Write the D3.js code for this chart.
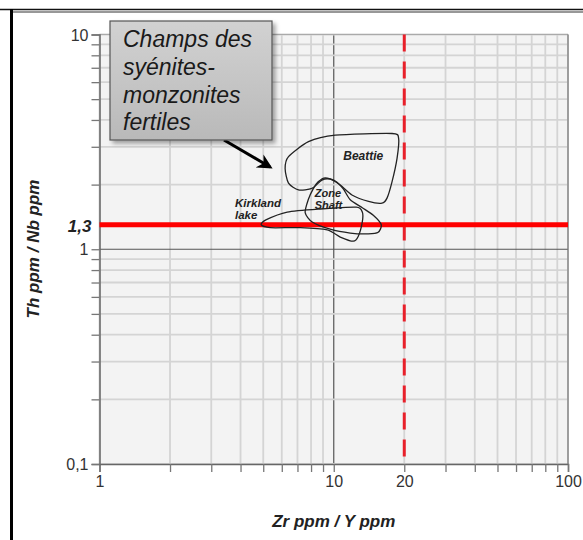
<!DOCTYPE html>
<html>
<head>
<meta charset="utf-8">
<script src="https://cdn.jsdelivr.net/npm/d3@7"></script>
<style>
  body { margin: 0; background: #fff; }
  text { font-family: Arial, "Liberation Sans", sans-serif; }
</style>
</head>
<body>
<div id="chart"></div>
<script>
// Axis ticks and labels
var xTicks = [1, 10, 20, 100];
var xTickLabels = ["1", "10", "20", "100"];
var yTicks = [0.1, 1, 10];
var yTickLabels = ["0,1", "1", "10"];

// Threshold lines
var thThreshold = 1.3;
var thThresholdLabel = "1,3";
var zrThreshold = 20;

// Fields [Zr/Y, Th/Nb]
var beattie = [[6.41, 2.70], [7.80, 3.17], [10.15, 3.40], [17.73, 3.46], [18.92, 3.28],
  [18.63, 2.65], [17.73, 2.06], [16.88, 1.73], [16.07, 1.64], [14.08, 1.67],
  [11.96, 1.79], [10.66, 1.99], [9.66, 2.12], [8.90, 2.10], [8.07, 1.92],
  [7.07, 1.89], [6.41, 2.03], [6.20, 2.38]];
var zoneShaft = [[9.20, 2.15], [10.15, 2.08], [10.98, 1.91], [11.76, 1.70], [13.24, 1.56],
  [14.75, 1.44], [15.96, 1.30], [15.48, 1.20], [14.04, 1.18], [11.76, 1.19],
  [9.66, 1.24], [8.09, 1.34], [7.55, 1.48], [7.78, 1.70], [8.17, 1.91], [8.58, 2.06]];
var kirkland = [[4.90, 1.30], [5.13, 1.37], [6.33, 1.49], [8.75, 1.54], [12.48, 1.57],
  [13.24, 1.49], [13.24, 1.34], [12.73, 1.15], [12.12, 1.09], [10.66, 1.14],
  [9.38, 1.23], [7.19, 1.26], [5.35, 1.26]];
var fields = [beattie, zoneShaft, kirkland];

// Field names, anchored at [Zr/Y, Th/Nb]
var fieldNames = [["Beattie"], ["Zone", "Shaft"], ["Kirkland", "lake"]];
var fieldNamePos = [[10.98, 2.60], [8.30, 1.75], [3.79, 1.57]];
var fieldNameSize = [12, 11, 11.5];

var calloutLines = ["Champs des", "syénites-", "monzonites", "fertiles"];
var xTitle = "Zr ppm / Y ppm";
var yTitle = "Th ppm / Nb ppm";

var svgWidth = 583, svgHeight = 540;
var plot = { left: 99.5, right: 568, top: 34.5, bottom: 464 };

var svg = d3.select("#chart").append("svg")
  .attr("width", svgWidth)
  .attr("height", svgHeight);

var defs = svg.append("defs");
var grad = defs.append("linearGradient").attr("id", "boxFill")
  .attr("x1", 0).attr("y1", 0).attr("x2", 0).attr("y2", 1);
grad.append("stop").attr("offset", "0%").attr("stop-color", "#d2d2d2");
grad.append("stop").attr("offset", "100%").attr("stop-color", "#b9b9b9");
var shadow = defs.append("filter").attr("id", "shadow")
  .attr("x", "-10%").attr("y", "-10%").attr("width", "130%").attr("height", "130%");
shadow.append("feDropShadow").attr("dx", 3).attr("dy", 3).attr("stdDeviation", 2)
  .attr("flood-color", "#000").attr("flood-opacity", 0.35);
defs.append("marker").attr("id", "arrow")
  .attr("viewBox", "0 0 10 10").attr("refX", 8).attr("refY", 5)
  .attr("markerWidth", 5).attr("markerHeight", 5).attr("orient", "auto")
  .append("path").attr("d", "M0,0 L10,5 L0,10 L3,5 Z").attr("fill", "#000");

// Frame
svg.append("line").attr("x1", 0).attr("x2", svgWidth).attr("y1", 9.5).attr("y2", 9.5)
  .attr("stroke", "#111").attr("stroke-width", 1.5);
svg.append("line").attr("x1", 10).attr("x2", svgWidth).attr("y1", 12).attr("y2", 12)
  .attr("stroke", "#333").attr("stroke-width", 1.2);
svg.append("line").attr("x1", 11.5).attr("x2", 11.5).attr("y1", 9).attr("y2", svgHeight)
  .attr("stroke", "#000").attr("stroke-width", 3);

var x = d3.scaleLog().domain([1, 100]).range([plot.left, plot.right]);
var y = d3.scaleLog().domain([0.1, 10]).range([plot.bottom, plot.top]);

// Plot background
svg.append("rect")
  .attr("x", plot.left).attr("y", plot.top)
  .attr("width", plot.right - plot.left).attr("height", plot.bottom - plot.top)
  .attr("fill", "#f3f3f3");

// Grid
var grid = svg.append("g");
grid.selectAll(".gx").data(x.ticks()).enter().append("line")
  .attr("x1", d => x(d)).attr("x2", d => x(d))
  .attr("y1", plot.top).attr("y2", plot.bottom)
  .attr("stroke", d => d === 10 ? "#555" : "#d4d4d4")
  .attr("stroke-width", d => d === 10 ? 1.2 : 1.8);
grid.selectAll(".gy").data(y.ticks()).enter().append("line")
  .attr("y1", d => y(d)).attr("y2", d => y(d))
  .attr("x1", plot.left).attr("x2", plot.right)
  .attr("stroke", d => d === 1 ? "#555" : "#d4d4d4")
  .attr("stroke-width", d => d === 1 ? 1.2 : 1.8);
svg.append("line").attr("x1", plot.left).attr("x2", plot.right)
  .attr("y1", plot.top).attr("y2", plot.top).attr("stroke", "#aaa").attr("stroke-width", 1.2);
svg.append("line").attr("x1", plot.right).attr("x2", plot.right)
  .attr("y1", plot.top).attr("y2", plot.bottom).attr("stroke", "#777").attr("stroke-width", 1.2);

// Axes
var bottomAxis = d3.axisBottom(x).tickValues(x.ticks()).tickSize(8)
  .tickFormat(d => { var i = xTicks.indexOf(d); return i >= 0 ? xTickLabels[i] : ""; });
var leftAxis = d3.axisLeft(y).tickValues(y.ticks()).tickSize(8)
  .tickFormat(d => { var i = yTicks.indexOf(+d.toPrecision(3)); return i >= 0 ? yTickLabels[i] : ""; });

var gx = svg.append("g").attr("transform", `translate(0,${plot.bottom})`).call(bottomAxis);
var gy = svg.append("g").attr("transform", `translate(${plot.left},0)`).call(leftAxis);
[gx, gy].forEach(function(g) {
  g.select(".domain").attr("stroke", "#666").attr("stroke-width", 1.5);
  g.selectAll(".tick line").attr("stroke", "#777").attr("stroke-width", 1.3);
  g.selectAll(".tick text").attr("fill", "#333").style("font-size", "16px");
});
gx.selectAll(".tick text").attr("dy", "0.75em").attr("y", 11);
gy.selectAll(".tick text").attr("x", -11).attr("dy", "0.35em");

// Threshold lines
svg.append("line")
  .attr("x1", x(zrThreshold)).attr("x2", x(zrThreshold))
  .attr("y1", plot.top).attr("y2", plot.bottom)
  .attr("stroke", "#e8202a").attr("stroke-width", 3)
  .attr("stroke-dasharray", "17,10");
svg.append("line")
  .attr("x1", plot.left).attr("x2", plot.right)
  .attr("y1", y(thThreshold)).attr("y2", y(thThreshold))
  .attr("stroke", "#ff0000").attr("stroke-width", 5);
svg.append("text")
  .attr("x", plot.left - 8).attr("y", y(thThreshold)).attr("dy", "0.4em")
  .attr("text-anchor", "end")
  .style("font-size", "17px").style("font-weight", "bold").style("font-style", "italic")
  .attr("fill", "#222")
  .text(thThresholdLabel);

// Fields
var line = d3.line().x(d => x(d[0])).y(d => y(d[1])).curve(d3.curveCardinalClosed.tension(0.3));
svg.selectAll(".field").data(fields).enter().append("path")
  .attr("d", line)
  .attr("fill", "none")
  .attr("stroke", "#222")
  .attr("stroke-width", 1.3);

fieldNames.forEach(function(lines, i) {
  var t = svg.append("text")
    .attr("x", x(fieldNamePos[i][0])).attr("y", y(fieldNamePos[i][1]))
    .style("font-size", fieldNameSize[i] + "px")
    .style("font-weight", "bold").style("font-style", "italic")
    .attr("fill", "#222");
  lines.forEach(function(s, j) {
    t.append("tspan").attr("x", x(fieldNamePos[i][0])).attr("dy", j === 0 ? 0 : "1.05em").text(s);
  });
});

// Callout
svg.append("line")
  .attr("x1", 224).attr("y1", 140).attr("x2", 270).attr("y2", 167)
  .attr("stroke", "#000").attr("stroke-width", 3)
  .attr("marker-end", "url(#arrow)");
svg.append("rect")
  .attr("x", 110).attr("y", 21).attr("width", 162).attr("height", 119)
  .attr("fill", "url(#boxFill)").attr("stroke", "#555").attr("stroke-width", 1.2)
  .attr("filter", "url(#shadow)");
var callout = svg.append("text")
  .attr("x", 123).attr("y", 47)
  .style("font-size", "23px").style("font-style", "italic")
  .attr("fill", "#1a1a1a");
calloutLines.forEach(function(s, j) {
  callout.append("tspan").attr("x", 123).attr("dy", j === 0 ? 0 : 27.8).text(s);
});

// Axis titles
svg.append("text")
  .attr("x", x(10)).attr("y", 527)
  .attr("text-anchor", "middle")
  .style("font-size", "17px").style("font-weight", "bold").style("font-style", "italic")
  .attr("fill", "#222")
  .text(xTitle);
svg.append("text")
  .attr("transform", "translate(39,249) rotate(-90)")
  .attr("text-anchor", "middle")
  .style("font-size", "17px").style("font-weight", "bold").style("font-style", "italic")
  .attr("fill", "#222")
  .text(yTitle);
</script>
</body>
</html>
